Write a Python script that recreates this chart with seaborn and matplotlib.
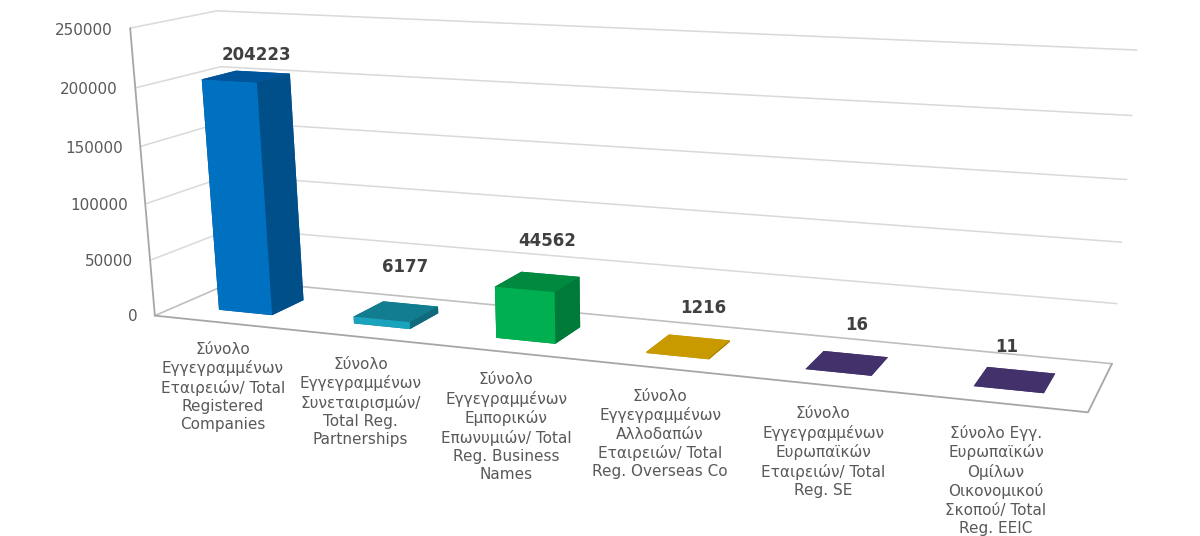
import numpy as np
import matplotlib
matplotlib.use("Agg")
import matplotlib.pyplot as plt
from mpl_toolkits.mplot3d import proj3d
import seaborn as sns

# ---- data ----
categories = [
    "Σύνολο\nΕγγεγραμμένων\nΕταιρειών/ Total\nRegistered\nCompanies",
    "Σύνολο\nΕγγεγραμμένων\nΣυνεταιρισμών/\nTotal Reg.\nPartnerships",
    "Σύνολο\nΕγγεγραμμένων\nΕμπορικών\nΕπωνυμιών/ Total\nReg. Business\nNames",
    "Σύνολο\nΕγγεγραμμένων\nΑλλοδαπών\nΕταιρειών/ Total\nReg. Overseas Co",
    "Σύνολο\nΕγγεγραμμένων\nΕυρωπαϊκών\nΕταιρειών/ Total\nReg. SE",
    "Σύνολο Εγγ.\nΕυρωπαϊκών\nΟμίλων\nΟικονομικού\nΣκοπού/ Total\nReg. EEIC",
]
values = [204223, 6177, 44562, 1216, 16, 11]
y_ticks = [0, 50000, 100000, 150000, 200000, 250000]

# ---- style ----
front_colors = ["#0070C0", "#1AA3BC", "#00B050", "#C99A00", "#42316A", "#42316A"]
top_colors = ["#00559A", "#127C90", "#008A40", "#C99A00", "#42316A", "#42316A"]
side_colors = ["#004F88", "#0F6A7C", "#007A38", "#A88000", "#42316A", "#42316A"]
label_lift = [18200, 39500, 34500, 33000, 31000, 24500]
label_shift = [0.08, 0.075, 0.07, 0.10, 0.06, -0.05]
Z_MAX = y_ticks[-1]
N = len(categories)
W, H = 1200, 536

sns.set_theme(style="white")
plt.rcParams["font.family"] = ["DejaVu Sans"]
text_col = "#595959"

# ---- camera: calibrated from the chart box corners (chart coordinates -> pixels) ----
corners = [((0, 0, 0), (155, 316)), ((0, 1, 0), (236, 280)),
           ((1, 0, 0), (1088, 412)), ((1, 1, 0), (1112, 364)),
           ((0, 0, 1), (130, 28)), ((0, 1, 1), (217, 11)),
           ((1, 1, 1), (1137, 50))]
rows = []
for (X, Y, Z), (u, v) in corners:
    v = H - v
    rows.append([X, Y, Z, 1, 0, 0, 0, 0, -u * X, -u * Y, -u * Z, -u])
    rows.append([0, 0, 0, 0, X, Y, Z, 1, -v * X, -v * Y, -v * Z, -v])
P = np.linalg.svd(np.array(rows, float))[2][-1].reshape(3, 4)
P = P / P[2, 3]
P = P @ np.diag([1 / N, 1, 1 / Z_MAX, 1])
M = np.vstack([P[0], P[1], [0, 0, 0, -1], P[2]])

fig = plt.figure(figsize=(W / 100, H / 100), dpi=100, facecolor="white")
ax = fig.add_axes([0, 0, 1, 1], projection="3d")
ax.set_proj_type("ortho")
ax.set_axis_off()
ax.computed_zorder = False
ax.get_proj = lambda: M
ax.apply_aspect = lambda position=None: None


def label(x, y, z, s, **kw):
    """Place a text at a chart position, projected through the same camera."""
    px, py, _ = proj3d.proj_transform(x, y, z, M)
    ax.text2D(float(px), float(py), s, transform=ax.transData, **kw)


grid = "#D9D9D9"
axis = "#A6A6A6"
# gridlines on the side wall and back wall
for t in y_ticks[1:]:
    ax.plot([0, 0, N], [0, 1, 1], [t, t, t], color=grid, lw=1.1, zorder=1)
ax.plot([0, 0, N], [0, 1, 1], [0, 0, 0], color="#BFBFBF", lw=1.2, zorder=1)
# floor outline and value axis
ax.plot([0, N, N], [0, 0, 1], [0, 0, 0], color=axis, lw=1.3, zorder=1)
ax.plot([0, 0], [0, 0], [0, Z_MAX], color=axis, lw=1.3, zorder=1)

# bars
bar_w, bar_y0, bar_d = 0.4, 0.27, 0.41
bar_c = 0.515
palette_f = sns.color_palette(front_colors)
palette_t = sns.color_palette(top_colors)
palette_s = sns.color_palette(side_colors)
for i, val in enumerate(values):
    cols = [palette_t[i], palette_t[i], palette_f[i], palette_t[i], palette_s[i], palette_s[i]]
    ax.bar3d(i + bar_c - bar_w / 2, bar_y0, 0, bar_w, bar_d, val, color=cols,
             shade=False, linewidth=0, zorder=2)

# value labels
for i, val in enumerate(values):
    label(i + 0.5 + label_shift[i], 0.505, val + label_lift[i], str(val), ha="center", va="center",
          fontsize=12, fontweight="bold", color="#404040", zorder=3)

# tick labels
for t in y_ticks:
    label(-0.13, 0, t - 2500, str(t), ha="right", va="center", fontsize=11, color=text_col, zorder=3)

# category labels
for i, lab in enumerate(categories):
    label(i + 0.5, 0, -17500, lab, ha="center", va="top", fontsize=11,
          color=text_col, linespacing=1.27, zorder=3)

ax.viewLim.intervalx = (0, W)
ax.viewLim.intervaly = (0, H)
fig.savefig("out.png", dpi=100, facecolor="white")
